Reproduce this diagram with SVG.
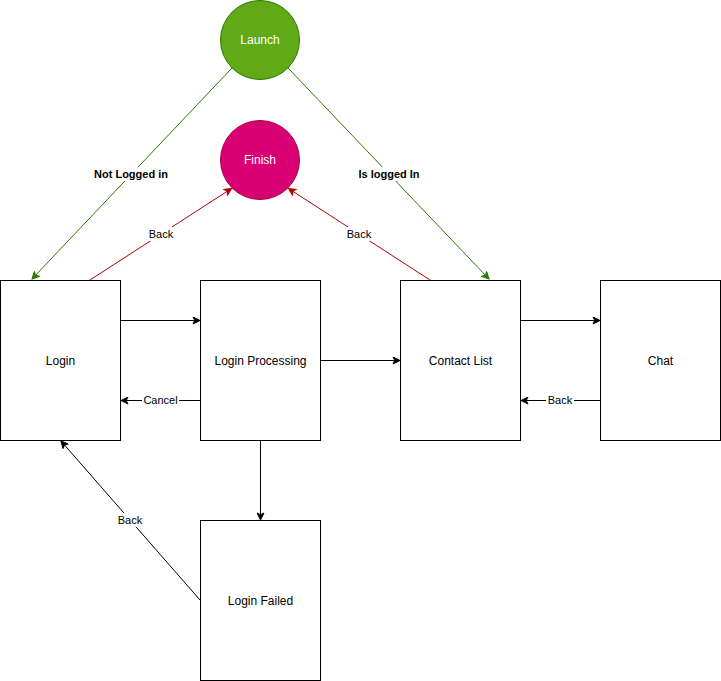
<svg xmlns="http://www.w3.org/2000/svg" width="721" height="681" viewBox="0 0 721 681">
  <style>
    .box { fill: #ffffff; stroke: #000000; stroke-width: 1; }
    .label { font-family: "Liberation Sans", Arial, sans-serif; font-size: 12px; text-anchor: middle; dominant-baseline: central; fill: #000000; }
    .circle-label { font-family: "Liberation Sans", Arial, sans-serif; font-size: 12px; text-anchor: middle; dominant-baseline: central; fill: #ffffff; }
    .edge { fill: none; stroke-width: 1; }
    .edge-black { stroke: #000000; marker-end: url(#arrow-black); }
    .edge-green { stroke: #2D7600; marker-end: url(#arrow-green); }
    .edge-red { stroke: #B20000; marker-end: url(#arrow-red); }
    .edge-label { font-family: "Liberation Sans", Arial, sans-serif; font-size: 11px; text-anchor: middle; dominant-baseline: central; fill: #000000; }
    .edge-label-bold { font-weight: bold; }
    .label-bg { fill: #ffffff; stroke: none; }
  </style>
  <defs>
    <marker id="arrow-black" viewBox="-8 -4 9 8" refX="0" refY="0" markerWidth="9" markerHeight="8" markerUnits="userSpaceOnUse" orient="auto">
      <path d="M0,0 L-7,-3.5 L-5.25,0 L-7,3.5 Z" fill="#000000" stroke="#000000" stroke-width="1"/>
    </marker>
    <marker id="arrow-green" viewBox="-8 -4 9 8" refX="0" refY="0" markerWidth="9" markerHeight="8" markerUnits="userSpaceOnUse" orient="auto">
      <path d="M0,0 L-7,-3.5 L-5.25,0 L-7,3.5 Z" fill="#2D7600" stroke="#2D7600" stroke-width="1"/>
    </marker>
    <marker id="arrow-red" viewBox="-8 -4 9 8" refX="0" refY="0" markerWidth="9" markerHeight="8" markerUnits="userSpaceOnUse" orient="auto">
      <path d="M0,0 L-7,-3.5 L-5.25,0 L-7,3.5 Z" fill="#B20000" stroke="#B20000" stroke-width="1"/>
    </marker>
  </defs>

  <rect width="721" height="681" fill="#ffffff"/>

  <!-- connectors -->
  <g id="connectors">
    <path class="edge edge-green" d="M232,68 L32,279"/>
    <path class="edge edge-green" d="M288,68 L489,279"/>
    <path class="edge edge-red" d="M90,280 L231.5,188.5"/>
    <path class="edge edge-red" d="M430,280 L288.5,188.5"/>
    <path class="edge edge-black" d="M120.5,320.5 L200,320.5"/>
    <path class="edge edge-black" d="M320.5,360.5 L400,360.5"/>
    <path class="edge edge-black" d="M200,400.5 L121,400.5"/>
    <path class="edge edge-black" d="M520.5,320.5 L600,320.5"/>
    <path class="edge edge-black" d="M600,400.5 L521,400.5"/>
    <path class="edge edge-black" d="M260.5,440.5 L260.5,520"/>
    <path class="edge edge-black" d="M200,600 L61,441"/>

    <rect class="label-bg" x="93" y="167" width="76" height="14"/>
    <text class="edge-label edge-label-bold" x="131" y="174">Not Logged in</text>
    <rect class="label-bg" x="357" y="167" width="64" height="14"/>
    <text class="edge-label edge-label-bold" x="389" y="174">Is logged In</text>
    <rect class="label-bg" x="147" y="227" width="28" height="14"/>
    <text class="edge-label" x="161" y="234">Back</text>
    <rect class="label-bg" x="345" y="227" width="28" height="14"/>
    <text class="edge-label" x="359" y="234">Back</text>
    <rect class="label-bg" x="142" y="393" width="37" height="14"/>
    <text class="edge-label" x="160.5" y="400">Cancel</text>
    <rect class="label-bg" x="546" y="393" width="28" height="14"/>
    <text class="edge-label" x="560" y="400">Back</text>
    <rect class="label-bg" x="116" y="513" width="28" height="14"/>
    <text class="edge-label" x="130" y="520">Back</text>
  </g>

  <!-- nodes -->
  <g id="launch">
    <circle cx="260" cy="40" r="39.5" fill="#60a917" stroke="#2D7600"/>
    <text class="circle-label" x="260" y="40">Launch</text>
  </g>
  <g id="finish">
    <circle cx="260" cy="160" r="39.5" fill="#d80073" stroke="#A50040"/>
    <text class="circle-label" x="260" y="160">Finish</text>
  </g>
  <g id="login">
    <rect class="box" x="0.5" y="280.5" width="120" height="160"/>
    <text class="label" x="60.5" y="360.5">Login</text>
  </g>
  <g id="login-processing">
    <rect class="box" x="200.5" y="280.5" width="120" height="160"/>
    <text class="label" x="260.5" y="360.5">Login Processing</text>
  </g>
  <g id="contact-list">
    <rect class="box" x="400.5" y="280.5" width="120" height="160"/>
    <text class="label" x="460.5" y="360.5">Contact List</text>
  </g>
  <g id="chat">
    <rect class="box" x="600.5" y="280.5" width="120" height="160"/>
    <text class="label" x="660.5" y="360.5">Chat</text>
  </g>
  <g id="login-failed">
    <rect class="box" x="200.5" y="520.5" width="120" height="160"/>
    <text class="label" x="260.5" y="600.5">Login Failed</text>
  </g>
</svg>
